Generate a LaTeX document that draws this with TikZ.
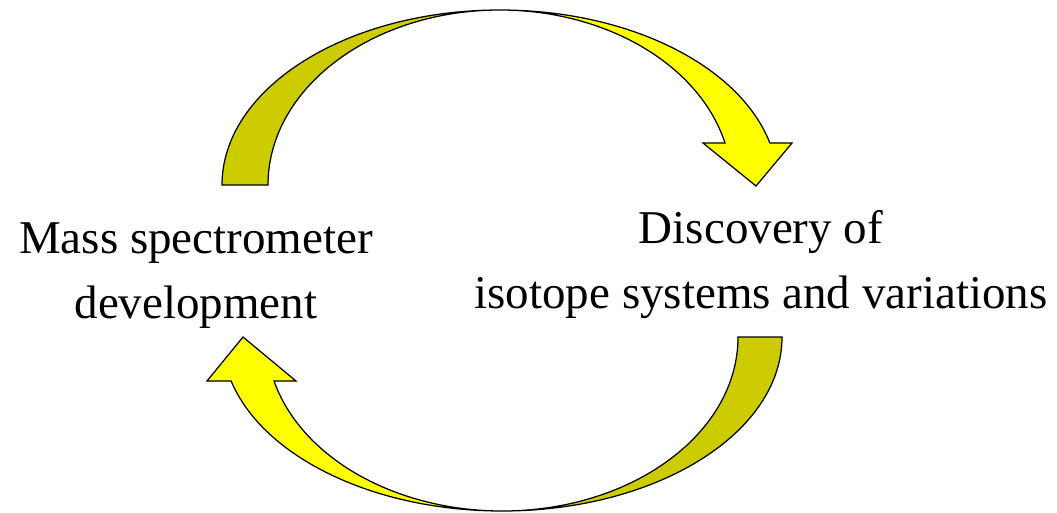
\documentclass[tikz,border=0pt]{standalone}
\usepackage{fontspec}
\setmainfont{Liberation Serif}
\definecolor{darkyel}{HTML}{CCCC00}
\definecolor{brightyel}{HTML}{FFFF00}
\tikzset{
  backband/.style={draw=black,line width=0.7pt,line join=miter,fill=darkyel},
  frontband/.style={draw=black,line width=0.7pt,line join=miter,fill=brightyel},
  lbl/.style={align=center,inner sep=0pt,anchor=base,font=\fontsize{26.75}{37}\selectfont}
}
\begin{document}
\begin{tikzpicture}[x=0.02cm,y=0.02cm]
\useasboundingbox (0,0) rectangle (1057,512);
% upper arrow, back half (left) then front half with head
\draw[backband] (222,327) arc[start angle=180,end angle=90,x radius=278,y radius=175]
  arc[start angle=90,end angle=180,x radius=232,y radius=175] -- cycle;
\draw[frontband] (500,502) arc[start angle=90,end angle=13.89,x radius=278,y radius=175]
  -- (792,369) -- (756,326) -- (703,369) -- (725,369)
  arc[start angle=13.89,end angle=90,x radius=232,y radius=175] -- cycle;
% lower arrow, back half (right) then front half with head
\draw[backband] (782,175) arc[start angle=0,end angle=-90,x radius=280,y radius=174]
  arc[start angle=-90,end angle=0,x radius=236,y radius=174] -- cycle;
\draw[frontband] (502,1) arc[start angle=270,end angle=194.65,x radius=280,y radius=174]
  -- (207,131) -- (243,175) -- (296,131) -- (274,131)
  arc[start angle=194.65,end angle=270,x radius=236,y radius=174] -- cycle;
% labels (base = last line)
\node[lbl] (mass) at (196,194) {Mass spectrometer\\development};
\node[lbl] (disc) at (761,204) {Discovery of\\isotope systems and variations};
\end{tikzpicture}
\end{document}
